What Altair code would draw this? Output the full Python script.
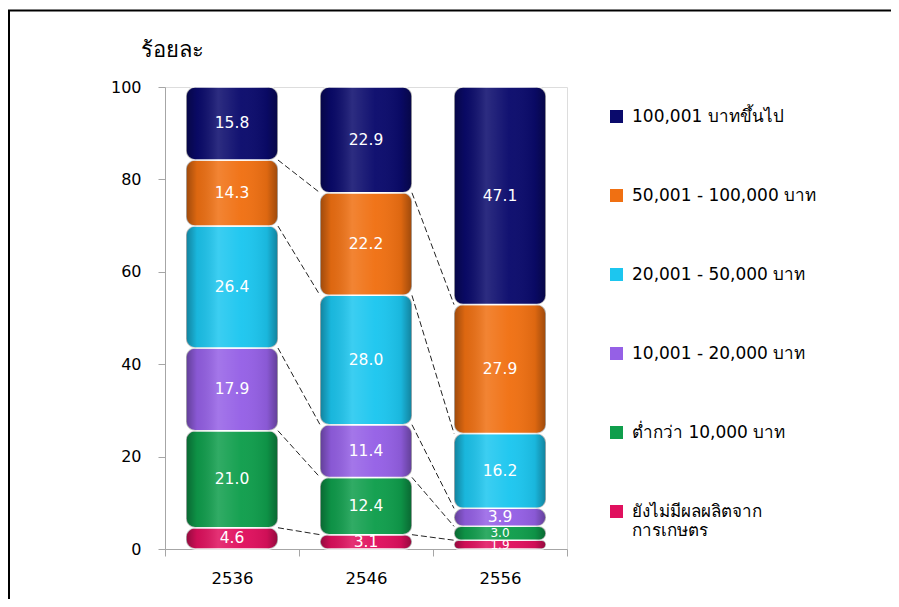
import altair as alt
import pandas as pd

years = ["2536", "2546", "2556"]
series = [
    "ยังไม่มีผลผลิตจากการเกษตร",
    "ต่ำกว่า 10,000 บาท",
    "10,001 - 20,000 บาท",
    "20,001 - 50,000 บาท",
    "50,001 - 100,000 บาท",
    "100,001 บาทขึ้นไป",
]
colors = ["#e0105e", "#0f9e4c", "#9560e6", "#1cc6ef", "#f07012", "#0a0a6c"]
values = {
    "2536": [4.6, 21.0, 17.9, 26.4, 14.3, 15.8],
    "2546": [3.1, 12.4, 11.4, 28.0, 22.2, 22.9],
    "2556": [1.9, 3.0, 3.9, 16.2, 27.9, 47.1],
}

rows = []
for i, y in enumerate(years):
    for k, s in enumerate(series):
        rows.append({"year": y, "idx": i, "series": s, "order": k, "value": values[y][k]})
df = pd.DataFrame(rows)

# connectors between segment tops of neighbouring bars
con = []
for i in range(len(years) - 1):
    a = values[years[i]]
    b = values[years[i + 1]]
    ca = cb = 0.0
    for k in range(len(series) - 1):
        ca += a[k]
        cb += b[k]
        con.append({"idx": i, "ya": ca, "yb": cb})
cdf = pd.DataFrame(con)

FONT = "DejaVu Sans, Verdana, sans-serif"
HALF = 0.343

label_expr = " : ".join(
    f"datum.value == {i + 0.5} ? '{y}'" for i, y in enumerate(years)
) + " : ''"

xscale = alt.Scale(domain=[0, len(years)], nice=False, zero=False)
yscale = alt.Scale(domain=[0, 100], nice=False)

xaxis = alt.Axis(
    values=[v / 2 for v in range(0, 2 * len(years) + 1)],
    labelExpr=label_expr,
    tickOpacity={"condition": {"test": "datum.value % 1 == 0", "value": 1}, "value": 0},
    tickSize=7, labelPadding=14, labelFontSize=16.5, labelFont=FONT, labelColor="#000000",
    domainColor="#a6a6a6", tickColor="#a6a6a6", grid=False, title=None,
    labelOverlap=False, labelFlush=False,
)
yaxis = alt.Axis(
    values=[0, 20, 40, 60, 80, 100], tickSize=7, labelPadding=17, labelFontSize=16,
    labelFont=FONT, labelColor="#000000", domainColor="#a6a6a6", tickColor="#a6a6a6",
    grid=False, title="ร้อยละ", titleAngle=0, titleX=7, titleY=-31, titleAlign="center",
    titleBaseline="alphabetic", titleFontSize=22, titleFontWeight="normal",
    titleFont=FONT, titleColor="#000000",
)

base = alt.Chart(df).transform_stack(
    stack="value", groupby=["year"], sort=[alt.SortField("order")], as_=["y0", "y1"]
).transform_calculate(
    xs=f"datum.idx + 0.5 - {HALF}", xe=f"datum.idx + 0.5 + {HALF}",
    xm="datum.idx + 0.5", mid="(datum.y0 + datum.y1) / 2",
)

bars = base.mark_bar(cornerRadius=9, stroke="white", strokeWidth=1.5).encode(
    x=alt.X("xs:Q", scale=xscale, axis=xaxis),
    x2="xe:Q",
    y=alt.Y("y0:Q", scale=yscale, axis=yaxis),
    y2="y1:Q",
    color=alt.Color(
        "series:N",
        scale=alt.Scale(domain=series[::-1], range=colors[::-1]),
        legend=alt.Legend(
            orient="none", legendX=443, legendY=21, title=None, symbolType="square",
            symbolSize=169, symbolStrokeWidth=0, labelFontSize=17, labelFont=FONT,
            labelColor="#000000", labelOffset=7, rowPadding=61, padding=0,
            labelLimit=300,
            labelExpr="datum.label == 'ยังไม่มีผลผลิตจากการเกษตร' ? ['ยังไม่มีผลผลิตจาก', 'การเกษตร'] : datum.label",
        ),
    ),
)

shade = base.mark_bar(
    cornerRadius=9,
    color=alt.LinearGradient(
        gradient="linear", x1=0, y1=0, x2=1, y2=0,
        stops=[
            alt.GradientStop(offset=0, color="rgba(0,0,0,0.35)"),
            alt.GradientStop(offset=0.12, color="rgba(0,0,0,0.08)"),
            alt.GradientStop(offset=0.35, color="rgba(255,255,255,0.14)"),
            alt.GradientStop(offset=0.6, color="rgba(255,255,255,0.03)"),
            alt.GradientStop(offset=0.88, color="rgba(0,0,0,0.08)"),
            alt.GradientStop(offset=1, color="rgba(0,0,0,0.35)"),
        ],
    ),
).encode(x="xs:Q", x2="xe:Q", y="y0:Q", y2="y1:Q")

labels = base.mark_text(color="white", font=FONT).encode(
    x="xm:Q", y="mid:Q", text=alt.Text("value:Q", format=".1f"),
    size=alt.condition("datum.y1 - datum.y0 < 3.05", alt.value(12), alt.value(15.5)),
)

conn = alt.Chart(cdf).transform_calculate(
    xa=f"datum.idx + 0.5 + {HALF}", xb=f"datum.idx + 1.5 - {HALF}"
).mark_rule(color="#222222", strokeWidth=1, strokeDash=[6, 3]).encode(
    x="xa:Q", x2="xb:Q", y="ya:Q", y2="yb:Q"
)

frame = alt.Chart(pd.DataFrame({"f": [0]})).mark_rect(
    fill=None, stroke="#000000", strokeWidth=2, clip=False
).encode(x=alt.value(-156), x2=alt.value(900), y=alt.value(-76.5), y2=alt.value(700))

chart = alt.layer(frame, conn, bars, shade, labels).properties(
    width=402, height=462,
    autosize=alt.AutoSizeParams(type="none"),
    padding={"left": 157, "top": 79, "right": 324, "bottom": 50},
).configure_view(stroke="#c4c4b0", strokeWidth=1.5).configure(background="white")

chart.save("out.html", embed_options={"renderer": "svg", "actions": False})
